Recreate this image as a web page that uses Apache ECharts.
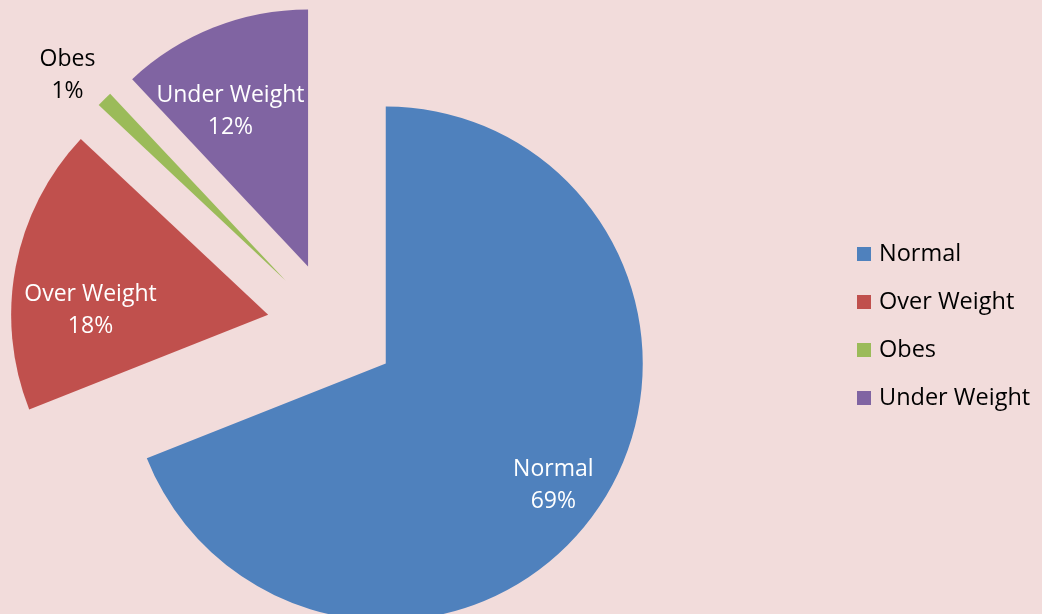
<!DOCTYPE html>
<html>
<head>
<meta charset="utf-8">
<script src="https://cdn.jsdelivr.net/npm/echarts@6/dist/echarts.min.js"></script>
<style>
  html, body { margin: 0; padding: 0; background: #F2DCDB; }
  #chart { width: 1042px; height: 614px; }
</style>
</head>
<body>
<div id="chart"></div>
<script>
// BMI groups and their share of the sample (percent)
const categories = ['Normal', 'Over Weight', 'Obes', 'Under Weight'];
const shares = [69, 18, 1, 12];

const sliceColors = ['#4F81BD', '#C0504D', '#9BBB59', '#8064A2'];
const labelColors = ['#FFFFFF', '#FFFFFF', '#000000', '#FFFFFF'];
// where each label sits: distance from the slice tip (fraction of radius) and a small angular turn (deg)
const labelReach = [0.794, 0.68, 1.155, 0.665];
const labelTurn = [1.8, -9.6, -1.8, -5];

const CX = 332, CY = 327, R = 257, EXPLODE = 65;
const FONT = '"Open Sans", "Noto Sans", sans-serif';

const total = shares.reduce((a, b) => a + b, 0);
let acc = 0;
const midAngles = shares.map(v => {
  const m = (acc + v / 2) / total * 2 * Math.PI;
  acc += v;
  return m;
});

const chart = echarts.init(document.getElementById('chart'), null, { renderer: 'canvas' });

chart.setOption({
  backgroundColor: '#F2DCDB',
  animation: false,
  legend: {
    orient: 'vertical',
    left: 857,
    top: 242,
    padding: 0,
    icon: 'rect',
    itemWidth: 14,
    itemHeight: 14,
    itemGap: 24,
    selectedMode: false,
    textStyle: {
      fontFamily: FONT, fontSize: 23.5, color: '#000', lineHeight: 24,
      padding: [0, 0, 0, 3]
    },
    data: categories
  },
  series: [{
    type: 'pie',
    center: [CX, CY],
    radius: [0, R],
    startAngle: 90,
    clockwise: true,
    selectedMode: 'multiple',
    selectedOffset: EXPLODE,
    avoidLabelOverlap: false,
    emphasis: { disabled: true },
    labelLine: { show: false },
    label: {
      show: true,
      position: 'inside',
      formatter: '{b}\n{d}%',
      fontFamily: FONT,
      fontSize: 23,
      lineHeight: 32,
      align: 'center'
    },
    labelLayout: function (p) {
      const i = p.dataIndex;
      const m = midAngles[i];
      const a = m + labelTurn[i] * Math.PI / 180;
      const defX = (EXPLODE + R / 2) * Math.sin(m);
      const defY = -(EXPLODE + R / 2) * Math.cos(m);
      const wantX = EXPLODE * Math.sin(m) + labelReach[i] * R * Math.sin(a);
      const wantY = -EXPLODE * Math.cos(m) - labelReach[i] * R * Math.cos(a);
      return { dx: wantX - defX, dy: wantY - defY };
    },
    data: categories.map((name, i) => ({
      name: name,
      value: shares[i],
      selected: true,
      itemStyle: { color: sliceColors[i] },
      label: { color: labelColors[i] }
    }))
  }]
});
</script>
</body>
</html>
